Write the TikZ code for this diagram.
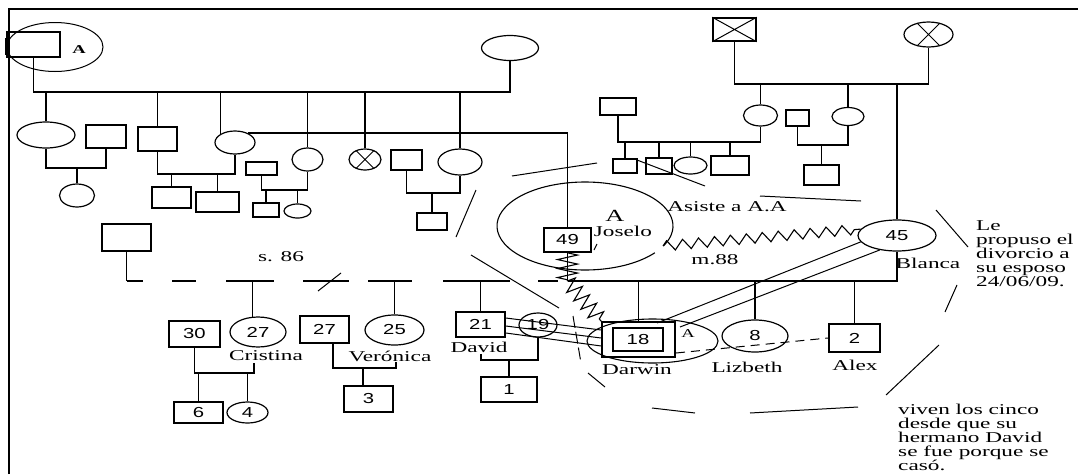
\documentclass[tikz,border=0pt]{standalone}
\usepackage{fontspec}
\usetikzlibrary{shapes.geometric,decorations.pathmorphing}
\newfontfamily\gfont[FakeStretch=1.55]{Liberation Serif}
\newfontfamily\nfont[FakeStretch=1.4]{Liberation Sans}
\newfontfamily\pfont{Liberation Serif}
\begin{document}
\begin{tikzpicture}[x=1pt,y=-1pt,
 ln/.style={line width=1.6pt},
 bnd/.style={line width=1pt},
 box/.style={draw,line width=1.6pt,rectangle,inner sep=0pt,font=\nfont\fontsize{14.5}{14}\selectfont},
 ell/.style={draw,line width=1.2pt,ellipse,inner sep=0pt,font=\nfont\fontsize{14.5}{14}\selectfont},
 lbl/.style={inner sep=0pt,font=\gfont\fontsize{15}{14}\selectfont},
 sz/.style 2 args={minimum width=#1pt,minimum height=#2pt}]
\useasboundingbox (0,0) rectangle (1078,474);
% frame
\draw[line width=2pt] (9,474) -- (9,9) -- (1078,9);

% ---------- top-left generation
\node[box,sz={53}{25}] (gfA) at (33.5,44.5) {};
\fill (5,38) rectangle (9,55);
\node[ell,sz={96}{49},line width=1pt] (gfAe) at (55,47) {};
\node[lbl,font=\gfont\bfseries\fontsize{12}{12}\selectfont] (gfAa) at (79,50) {A};
\node[ell,sz={57}{25}] (gmT) at (510,48) {};
\draw[ln] (gfA.south) |- (gmT.south |- 0,92) -- (gmT.south);

\node[ell,sz={58}{26}] (c1) at (46,135) {};
\node[box,sz={40}{23}] (c1s) at (106,136.5) {};
\node[ell,sz={35}{23}] (c1k) at (77,195.5) {};
\node[box,sz={39}{24}] (c2) at (157.5,139) {};
\node[ell,sz={40}{23}] (c3) at (235,142.5) {};
\node[box,sz={39}{21}] (c2k1) at (171.5,197.5) {};
\node[box,sz={43}{20}] (c2k2) at (217.5,202) {};
\node[box,sz={31}{13}] (c4s) at (261.5,168.5) {};
\node[ell,sz={31}{23}] (c4) at (307.5,159.5) {};
\node[box,sz={26}{14}] (c4k1) at (266,210) {};
\node[ell,sz={27}{14}] (c4k2) at (297.5,211) {};
\node[ell,sz={32}{21}] (c5) at (365,159.5) {};
\draw[bnd] (c5.45) -- (c5.225) (c5.135) -- (c5.315);
\node[box,sz={31}{20}] (c6s) at (406.5,160) {};
\node[ell,sz={44}{26}] (c6) at (460,162) {};
\node[box,sz={30}{17}] (c6k) at (432,221.5) {};

\foreach \n in {c1,c2,c4,c5,c6} \draw[ln] (\n.north) -- (\n.north |- 0,92);
\draw[ln] (c3.150) -- (c3.150 |- 0,92);
\draw[ln] (c1.south) |- (c1s.south |- 0,168) -- (c1s.south);
\draw[ln] (c1k.north) -- (c1k.north |- 0,168);
\draw[ln] (c2.south) |- (c3.south |- 0,174) -- (c3.south);
\foreach \n in {c2k1,c2k2} \draw[ln] (\n.north) -- (\n.north |- 0,174);
\draw[ln] (c4s.south) |- (c4.south |- 0,190) -- (c4.south);
\foreach \n in {c4k1,c4k2} \draw[ln] (\n.north) -- (\n.north |- 0,190);
\draw[ln] (c6s.south) |- (c6.south |- 0,193) -- (c6.south);
\draw[ln] (c6k.north) -- (c6k.north |- 0,193);

% ---------- top-right generation
\node[box,sz={43}{23}] (gfB) at (734.5,29.5) {};
\draw[bnd] (gfB.north west) -- (gfB.south east) (gfB.north east) -- (gfB.south west);
\node[ell,sz={49}{25}] (gmB) at (928.5,34.5) {};
\draw[bnd] (gmB.45) -- (gmB.225) (gmB.135) -- (gmB.315);
\draw[ln] (gfB.south) |- (gmB.south |- 0,84) -- (gmB.south);

\node[ell,sz={34}{21}] (b1) at (760.5,115.5) {};
\node[ell,sz={32}{18}] (b2) at (848,116.5) {};
\node[box,sz={23}{16}] (b2s) at (797.5,118) {};
\node[box,sz={35}{20}] (b2k) at (821.5,175) {};
\node[box,sz={36}{17}] (b1s) at (618,106.5) {};
\node[box,sz={24}{14}] (b1k1) at (625,166) {};
\node[box,sz={26}{16}] (b1k2) at (659,166) {};
\node[ell,sz={33}{17}] (b1k3) at (690.5,165.5) {};
\node[box,sz={38}{19}] (b1k4) at (730,165.5) {};
\node[ell,sz={78}{31}] (blanca) at (897,235.5) {45};

\foreach \n in {b1,b2,blanca} \draw[ln] (\n.north) -- (\n.north |- 0,84);
\draw[ln] (b1s.south) |- (b1.south |- 0,142) -- (b1.south);
\foreach \n in {b1k1,b1k2,b1k3,b1k4} \draw[ln] (\n.north) -- (\n.north |- 0,142);
\draw[ln] (b2s.south) |- (b2.south |- 0,145) -- (b2.south);
\draw[ln] (b2k.north) -- (b2k.north |- 0,145);

% ---------- Joselo
\draw[line width=1.1pt] (585,226) ++(37.5:88 and 44) arc[start angle=37.5, end angle=387, x radius=88, y radius=44];
\node[box,sz={47}{24}] (j49) at (567.5,240) {49};
\node[lbl,font=\gfont\fontsize{17}{17}\selectfont] (jA) at (615,216) {A};
\node[lbl] (jname) at (623,231) {Joselo};
\draw[bnd] (597,244) -- (594,250);
\draw[ln] (c3.35) -| (j49.north);
\node[lbl] (asiste) at (727,207) {Asiste a A.A};
\node[lbl] (m88) at (715,260) {m.88};
\node[lbl] (s86) at (281,257) {s. 86};
\node[lbl] (blancaL) at (928,263) {Blanca};

\coordinate (jm) at (j49.south |- 0,281);
\draw[ln] (j49.south) -- (jm);
\draw[line width=1.1pt,decorate,decoration={zigzag,segment length=9pt,amplitude=10pt}] (j49.south) -- (jm);
\coordinate (jz) at (663,246);
\draw[line width=1.1pt,decorate,decoration={zigzag,segment length=16pt,amplitude=5pt}] (jz) -- (blanca.170);

% ---------- first husband
\node[box,sz={49}{27}] (pF) at (126.5,237.5) {};
\coordinate (pL) at (pF.south |- 0,281);
\draw[ln] (pF.south) -- (pL);
\draw[ln,dash pattern=on 16.5pt off 29pt on 24pt off 30pt on 48pt off 29pt on 46pt off 19pt on 44pt off 31pt on 67pt off 28pt on 20pt off 10pt] (pL) -- (jm);
\draw[ln] (jm) -- (blanca.south |- 0,281) -- (blanca.south);
\draw[bnd] (318,291) -- (341,273);

% ---------- third generation
\node[ell,sz={56}{30}] (cris) at (258,332) {27};
\node[lbl] (crisL) at (266,356) {Cristina};
\node[box,sz={51}{26}] (crisS) at (194.5,334) {30};
\node[box,sz={49}{21}] (k6) at (198.5,412.5) {6};
\node[ell,sz={41}{21}] (k4) at (247.5,412.5) {4};
\coordinate (crisB) at (254,363);
\draw[ln] (crisS.south) |- (crisB |- 0,373) -- (crisB);
\foreach \n in {k6,k4} \draw[ln] (\n.north) -- (\n.north |- 0,373);

\node[box,sz={49}{27}] (vS) at (324.5,329.5) {27};
\node[ell,sz={59}{30}] (vero) at (394.5,330) {25};
\node[lbl] (veroL) at (390,356) {Verónica};
\node[box,sz={49}{26}] (k3) at (368.5,399) {3};
\coordinate (veroB) at (396,362);
\draw[ln] (vS.south -| 333,0) |- (veroB |- 0,368) -- (veroB);
\draw[ln] (k3.north -| 363,0) -- (363,368);

\node[box,sz={49}{25}] (david) at (480.5,324.5) {21};
\node[lbl] (davidL) at (479,347) {David};
\node[ell,sz={38}{24}] (d19) at (538,325) {19};
\node[box,sz={56}{25}] (k1) at (509,389.5) {1};
\coordinate (davB) at (481,354);
\draw[ln] (davB) |- (d19.south |- 0,360) -- (d19.south);
\draw[ln] (k1.north) -- (k1.north |- 0,360);

\node[box,sz={73}{35}] (darwinO) at (638.5,339.5) {};
\node[box,sz={50}{23}] (darwin) at (638,339.5) {18};
\node[ell,sz={131}{44},line width=1.1pt] (darwinE) at (652.5,341) {};
\node[lbl,font=\gfont\fontsize{12}{12}\selectfont] (darwinA) at (688,334) {A};
\node[lbl] (darwinL) at (637,370) {Darwin};
\node[ell,sz={66}{32}] (liz) at (755,336) {8};
\node[lbl] (lizL) at (747,367) {Lizbeth};
\node[box,sz={51}{28}] (alex) at (854.5,338) {2};
\node[lbl] (alexL) at (855,365) {Alex};

\draw[ln] (cris.110) -- (cris.110 |- 0,281);
\foreach \n in {vero,david,darwinO,liz,alex} \draw[ln] (\n.north) -- (\n.north |- 0,281);

% relations
\draw[bnd] (david.east |- 0,318) -- (darwinO.west |- 0,330);
\draw[bnd] (david.east |- 0,326) -- (darwinO.west |- 0,338);
\draw[bnd] (david.east |- 0,333) -- (darwinO.west |- 0,346);
\coordinate (bd1) at (657,323);
\coordinate (bd2) at (680,327);
\draw[bnd] (blanca.190) -- (bd1);
\draw[bnd] (blanca.220) -- (bd2);
\draw[line width=1.1pt,decorate,decoration={zigzag,segment length=11pt,amplitude=8pt}] (jm) -- (darwinO.north west);
\coordinate (dl) at (676,353);
\draw[bnd,dash pattern=on 9pt off 6pt] (dl) -- (alex.west);

% household boundary
\draw[bnd] (512,176) -- (597,163);
\draw[bnd] (637,160) -- (705,186);
\draw[bnd] (760,196) -- (861,201);
\draw[bnd] (936,210) -- (968,247);
\draw[bnd] (945,312) -- (957,285);
\draw[bnd] (886,395) -- (939,345);
\draw[bnd] (750,413) -- (858,407);
\draw[bnd] (652,408) -- (695,413);
\draw[bnd] (588,373) -- (605,387);
\draw[bnd,dash pattern=on 12pt off 4pt] (573,316) -- (581,363);
\draw[bnd] (471,255) -- (559,308);
\draw[bnd] (476,190) -- (456,237);

% notes
\node[lbl,align=left,anchor=north west] (note1) at (976,220) {Le\\propuso el\\divorcio a\\su esposo\\24/06/09.};
\node[lbl,align=left,anchor=north west] (note2) at (898,404) {viven los cinco\\desde que su\\hermano David\\se fue porque se\\casó.};
\end{tikzpicture}
\end{document}
